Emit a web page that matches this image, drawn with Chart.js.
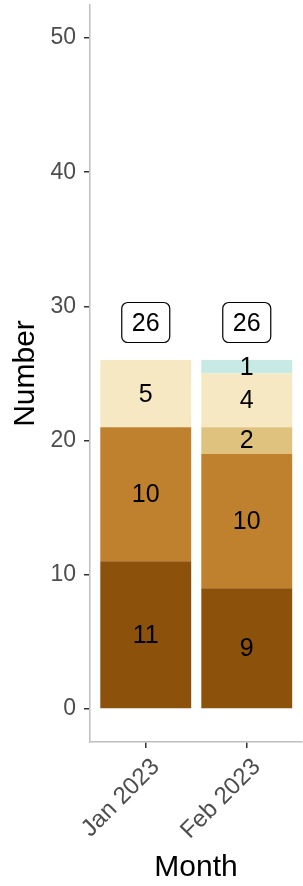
<!DOCTYPE html>
<html>
<head>
<meta charset="utf-8">
<script src="https://cdn.jsdelivr.net/npm/chart.js@4"></script>
<style>
  html, body { margin: 0; padding: 0; background: #fff; }
  #wrap { width: 303px; height: 886px; }
</style>
</head>
<body>
<div id="wrap"><canvas id="chart"></canvas></div>
<script>
const months = ['Jan 2023', 'Feb 2023'];
const seriesA = [11, 9];   // dark brown, bottom
const seriesB = [10, 10];
const seriesC = [0, 2];
const seriesD = [5, 4];
const seriesE = [0, 1];    // light teal, top
const yTicks = [0, 10, 20, 30, 40, 50];

const colors = ['#8C510A', '#BF812D', '#DFC27D', '#F6E8C3', '#C7EAE5'];
const allSeries = [seriesA, seriesB, seriesC, seriesD, seriesE];
const totals = months.map((m, i) => allSeries.reduce((s, arr) => s + arr[i], 0));

const FONT = '"Liberation Sans", Arial, sans-serif';

const toPoints = (arr) => arr.map((v, i) => ({ x: i + 1, y: v }));

const labelPlugin = {
  id: 'segLabels',
  afterDatasetsDraw(chart) {
    const ctx = chart.ctx;
    ctx.save();
    ctx.font = '25px ' + FONT;
    ctx.fillStyle = '#000';
    ctx.textAlign = 'center';
    ctx.textBaseline = 'middle';
    chart.data.datasets.forEach((ds, di) => {
      const meta = chart.getDatasetMeta(di);
      meta.data.forEach((bar, i) => {
        const v = ds.data[i].y;
        if (!v) return;
        const yMid = (bar.y + bar.base) / 2;
        ctx.fillText(String(v), bar.x, yMid + 1);
      });
    });
    // total boxes
    const xs = chart.scales.x, ys = chart.scales.y;
    totals.forEach((t, i) => {
      const cx = xs.getPixelForValue(i + 1);
      const cy = ys.getPixelForValue(t + 2.8);
      const w = 48, h = 40, r = 6;
      ctx.beginPath();
      ctx.roundRect(cx - w / 2, cy - h / 2, w, h, r);
      ctx.fillStyle = '#fff';
      ctx.fill();
      ctx.lineWidth = 1.2;
      ctx.strokeStyle = '#000';
      ctx.stroke();
      ctx.fillStyle = '#000';
      ctx.fillText(String(t), cx, cy + 2);
    });
    ctx.restore();
  }
};

const config = {
  type: 'bar',
  data: {
    datasets: allSeries.map((arr, k) => ({
      data: toPoints(arr),
      backgroundColor: colors[k],
      borderWidth: 0,
      categoryPercentage: 1,
      barPercentage: 0.9
    }))
  },
  options: {
    responsive: true,
    maintainAspectRatio: false,
    animation: false,
    layout: { padding: { top: 5, right: 1, left: 0, bottom: 0 } },
    plugins: {
      legend: { display: false },
      tooltip: { enabled: false }
    },
    scales: {
      x: {
        type: 'linear',
        stacked: true,
        offset: false,
        min: 0.448,
        max: 2.547,
        afterBuildTicks: (s) => { s.ticks = months.map((m, i) => ({ value: i + 1 })); },
        afterFit: (s) => { s.height = 144; s.paddingLeft = 0; s.paddingRight = 0; },
        ticks: {
          callback: (v) => months[v - 1] || '',
          minRotation: 45,
          maxRotation: 45,
          color: '#4d4d4d',
          padding: 5,
          labelOffset: 10,
          font: { family: FONT, size: 24 }
        },
        grid: { offset: false, drawOnChartArea: false, drawTicks: true, tickLength: 6, color: '#333', lineWidth: 1.5 },
        border: { color: '#bebebe', width: 1.5 },
        title: { display: true, text: 'Month', color: '#000', padding: 0, font: { family: FONT, size: 30, lineHeight: 1.2 } }
      },
      y: {
        stacked: true,
        min: -2.46,
        max: 52.46,
        afterBuildTicks: (s) => { s.ticks = yTicks.map(v => ({ value: v })); },
        afterFit: (s) => { s.width = 90; s.paddingTop = 0; s.paddingBottom = 0; },
        ticks: {
          color: '#4d4d4d',
          padding: 8,
          font: { family: FONT, size: 23 }
        },
        grid: { drawOnChartArea: false, drawTicks: true, tickLength: 6, color: '#333', lineWidth: 1.5 },
        border: { color: '#bebebe', width: 1.5 },
        title: { display: true, text: 'Number', color: '#000', padding: { top: 8, bottom: 0 }, font: { family: FONT, size: 30, lineHeight: 1.2 } }
      }
    }
  },
  plugins: [labelPlugin]
};

const chart = new Chart(document.getElementById('chart'), config);
</script>
</body>
</html>
